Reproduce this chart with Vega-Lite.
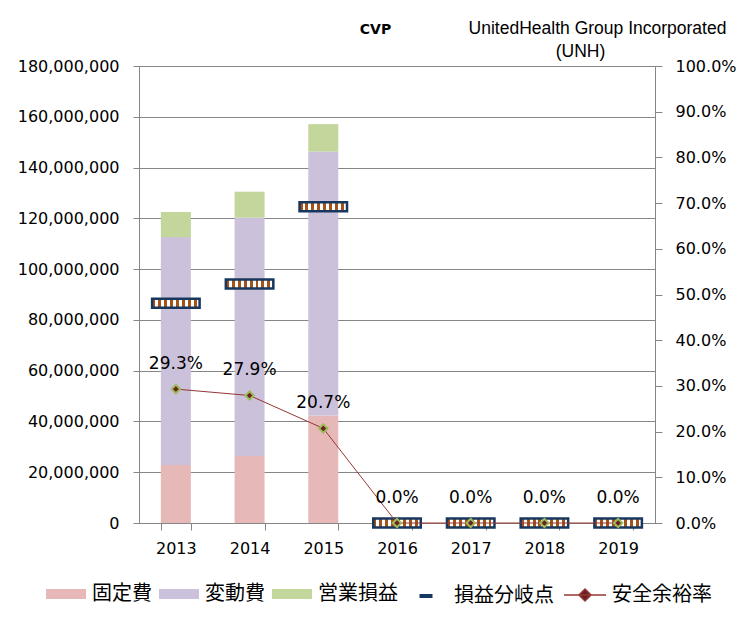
{
  "$schema": "https://vega.github.io/schema/vega-lite/v6.json",
  "width": 516,
  "height": 457,
  "autosize": {"type": "none"},
  "padding": {"left": 139, "top": 66, "right": 96, "bottom": 104},
  "background": "white",
  "config": {
    "view": {"stroke": null},
    "axis": {
      "labelFont": "DejaVu Sans",
      "labelFontSize": 16,
      "labelColor": "#000000",
      "domainColor": "#868686",
      "tickColor": "#868686",
      "gridColor": "#868686",
      "gridOpacity": 1,
      "labelFlush": false
    },
    "legend": {
      "orient": "none",
      "direction": "horizontal",
      "title": null,
      "symbolSize": 1600,
      "symbolOpacity": 1,
      "labelFont": "Noto Sans CJK JP",
      "labelFontSize": 20,
      "labelColor": "#000000",
      "labelOffset": 6,
      "labelLimit": 300,
      "columnPadding": 7
    }
  },
  "datasets": {
    "costs": [
      {"year": "2013", "series": "固定費", "value": 22800000, "ord": 1},
      {"year": "2013", "series": "変動費", "value": 89800000, "ord": 2},
      {"year": "2013", "series": "営業損益", "value": 9900000, "ord": 3},
      {"year": "2014", "series": "固定費", "value": 26400000, "ord": 1},
      {"year": "2014", "series": "変動費", "value": 93900000, "ord": 2},
      {"year": "2014", "series": "営業損益", "value": 10200000, "ord": 3},
      {"year": "2015", "series": "固定費", "value": 42300000, "ord": 1},
      {"year": "2015", "series": "変動費", "value": 104000000, "ord": 2},
      {"year": "2015", "series": "営業損益", "value": 10800000, "ord": 3}
    ],
    "summary": [
      {"year": "2013", "bep": 86600000, "margin": 0.293},
      {"year": "2014", "bep": 94100000, "margin": 0.279},
      {"year": "2015", "bep": 124600000, "margin": 0.207},
      {"year": "2016", "bep": 0, "margin": 0},
      {"year": "2017", "bep": 0, "margin": 0},
      {"year": "2018", "bep": 0, "margin": 0},
      {"year": "2019", "bep": 0, "margin": 0}
    ]
  },
  "layer": [
    {
      "layer": [
        {
          "data": {"name": "costs"},
          "mark": {"type": "bar"},
          "encoding": {
            "x": {
              "field": "year",
              "type": "ordinal",
              "scale": {"paddingInner": 0.593, "paddingOuter": 0.2965},
              "axis": {
                "title": "(UNH)",
                "titleX": 441,
                "titleY": -467,
                "titleAngle": 0,
                "titleAlign": "center",
                "titleBaseline": "alphabetic",
                "titleFont": "Liberation Sans",
                "titleFontSize": 17.5,
                "titleFontWeight": "normal",
                "titleColor": "#000000",
                "labelAngle": 0,
                "tickBand": "extent",
                "tickSize": 7,
                "labelPadding": 10,
                "domainColor": "#868686"
              }
            },
            "y": {
              "field": "value",
              "type": "quantitative",
              "stack": "zero",
              "scale": {"domain": [0, 180000000], "nice": false},
              "axis": {
                "values": [0, 20000000, 40000000, 60000000, 80000000, 100000000, 120000000, 140000000, 160000000, 180000000],
                "format": ",d",
                "grid": true,
                "tickSize": 6,
                "labelPadding": 14,
                "title": "CVP",
                "titleAngle": 0,
                "titleX": 236,
                "titleY": -37,
                "titleAlign": "center",
                "titleBaseline": "middle",
                "titleFont": "DejaVu Sans",
                "titleFontSize": 14,
                "titleFontWeight": "bold",
                "titleColor": "#000000"
              }
            },
            "color": {
              "field": "series",
              "type": "nominal",
              "scale": {
                "domain": ["固定費", "変動費", "営業損益"],
                "range": ["#E6B9B8", "#CCC1DA", "#C3D69B"]
              },
              "legend": {
                "legendX": -93,
                "legendY": 508,
                "symbolType": "M-1,-0.25H1V0.25H-1Z",
                "symbolStrokeWidth": 0
              }
            },
            "order": {"field": "ord", "type": "quantitative"}
          }
        },
        {
          "data": {"name": "summary"},
          "mark": {
            "type": "tick",
            "size": 47.5,
            "thickness": 9,
            "fill": {
              "gradient": "linear",
              "x1": 0, "y1": 0, "x2": 1, "y2": 0,
              "stops": [
                {"offset": 0, "color": "#A35218"}, {"offset": 0.0625, "color": "#A35218"},
                {"offset": 0.0625, "color": "#FFFFFF"}, {"offset": 0.125, "color": "#FFFFFF"},
                {"offset": 0.125, "color": "#A35218"}, {"offset": 0.1875, "color": "#A35218"},
                {"offset": 0.1875, "color": "#FFFFFF"}, {"offset": 0.25, "color": "#FFFFFF"},
                {"offset": 0.25, "color": "#A35218"}, {"offset": 0.3125, "color": "#A35218"},
                {"offset": 0.3125, "color": "#FFFFFF"}, {"offset": 0.375, "color": "#FFFFFF"},
                {"offset": 0.375, "color": "#A35218"}, {"offset": 0.4375, "color": "#A35218"},
                {"offset": 0.4375, "color": "#FFFFFF"}, {"offset": 0.5, "color": "#FFFFFF"},
                {"offset": 0.5, "color": "#A35218"}, {"offset": 0.5625, "color": "#A35218"},
                {"offset": 0.5625, "color": "#FFFFFF"}, {"offset": 0.625, "color": "#FFFFFF"},
                {"offset": 0.625, "color": "#A35218"}, {"offset": 0.6875, "color": "#A35218"},
                {"offset": 0.6875, "color": "#FFFFFF"}, {"offset": 0.75, "color": "#FFFFFF"},
                {"offset": 0.75, "color": "#A35218"}, {"offset": 0.8125, "color": "#A35218"},
                {"offset": 0.8125, "color": "#FFFFFF"}, {"offset": 0.875, "color": "#FFFFFF"},
                {"offset": 0.875, "color": "#A35218"}, {"offset": 0.9375, "color": "#A35218"},
                {"offset": 0.9375, "color": "#FFFFFF"}, {"offset": 1, "color": "#FFFFFF"}
              ]
            },
            "strokeWidth": 2.5,
            "opacity": 1
          },
          "encoding": {
            "x": {"field": "year", "type": "ordinal"},
            "y": {"field": "bep", "type": "quantitative"},
            "stroke": {
              "datum": "損益分岐点",
              "type": "nominal",
              "scale": {"range": ["#17375E"]},
              "legend": {
                "legendX": 265,
                "legendY": 508,
                "symbolType": "M-0.325,0H0.325",
                "symbolStrokeWidth": 4
              }
            }
          }
        }
      ]
    },
    {
      "data": {"name": "summary"},
      "encoding": {
        "x": {"field": "year", "type": "ordinal"},
        "y": {
          "field": "margin",
          "type": "quantitative",
          "scale": {"domain": [0, 1], "nice": false},
          "axis": {
            "orient": "right",
            "values": [0, 0.1, 0.2, 0.3, 0.4, 0.5, 0.6, 0.7, 0.8, 0.9, 1],
            "format": ".1%",
            "grid": false,
            "tickSize": 7,
            "labelPadding": 13,
            "title": "UnitedHealth Group Incorporated",
            "titleAngle": 0,
            "titleX": -58,
            "titleY": -33,
            "titleAlign": "center",
            "titleBaseline": "alphabetic",
            "titleFont": "Liberation Sans",
            "titleFontSize": 17.5,
            "titleFontWeight": "normal",
            "titleColor": "#000000"
          }
        }
      },
      "layer": [
        {
          "mark": {"type": "line", "strokeWidth": 1},
          "encoding": {
            "stroke": {
              "datum": "安全余裕率",
              "type": "nominal",
              "scale": {"range": ["#953735"]},
              "legend": {
                "legendX": 425,
                "legendY": 508,
                "symbolType": "M-1.05,0H1.05M0,-0.3L0.3,0L0,0.3L-0.3,0Z",
                "symbolStrokeWidth": 1.5,
                "symbolFillColor": "#6B2121"
              }
            }
          }
        },
        {
          "mark": {
            "type": "point",
            "shape": "diamond",
            "filled": true,
            "fill": "#6B2121",
            "stroke": "#9BBB59",
            "strokeWidth": 2,
            "size": 70,
            "opacity": 1
          }
        },
        {
          "mark": {"type": "text", "dy": -25, "fontSize": 17, "font": "DejaVu Sans", "color": "#000000"},
          "encoding": {"text": {"field": "margin", "type": "quantitative", "format": ".1%"}}
        }
      ]
    }
  ],
  "resolve": {"scale": {"y": "independent", "stroke": "independent"}}
}
